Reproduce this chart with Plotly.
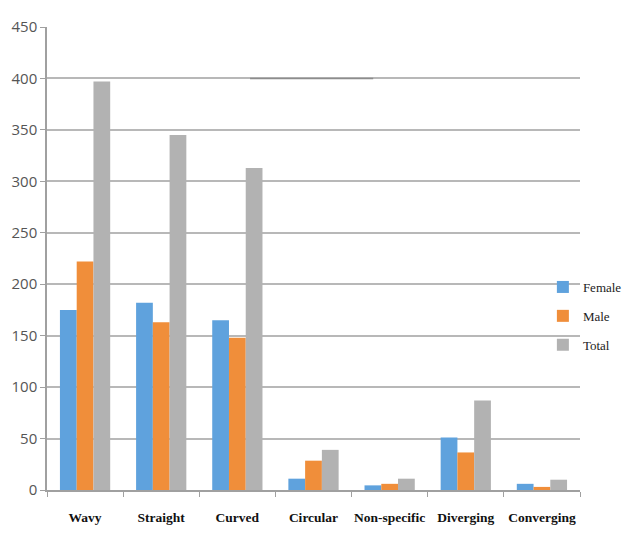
import plotly.graph_objects as go

categories = ["Wavy", "Straight", "Curved", "Circular", "Non-specific", "Diverging", "Converging"]
female = [175, 182, 165, 11, 4.5, 51, 6]
male = [222, 163, 148, 28.5, 6, 36.5, 3]
total = [397, 345, 313, 39, 11, 87, 10]
y_ticks = [0, 50, 100, 150, 200, 250, 300, 350, 400, 450]

colors = {"Female": "#5fa2dd", "Male": "#f08e3a", "Total": "#b2b2b2"}

fig = go.Figure()
for name, vals in [("Female", female), ("Male", male), ("Total", total)]:
    fig.add_trace(go.Bar(x=categories, y=vals, name=name, legendgroup=name,
                         marker=dict(color=colors[name], line=dict(width=0))))

# faint darker scan streak on the 400 gridline, as seen in the reference
fig.add_shape(type="line", xref="paper", yref="y", x0=0.381, x1=0.612, y0=400, y1=400,
              line=dict(color="#8c8c8c", width=1.5), layer="above")

fig.update_layout(
    width=624, height=540,
    margin=dict(l=47, r=44, t=27, b=50, autoexpand=False),
    paper_bgcolor="white", plot_bgcolor="white",
    barmode="group", bargap=0.34, bargroupgap=0,
    showlegend=True,
    legend=dict(xref="container", yref="container", x=0.87, xanchor="left",
                y=(540 - 316) / 540, yanchor="middle",
                font=dict(family="Liberation Serif", size=13, color="#222"),
                bgcolor="rgba(0,0,0,0)", tracegroupgap=9, itemwidth=30),
    yaxis=dict(range=[0, 450], tickvals=y_ticks, showgrid=True, gridcolor="#b8b8b8", gridwidth=1.5,
               showline=True, linecolor="#a0a0a0", linewidth=1.5, ticks="outside", ticklen=5,
               tickcolor="#a0a0a0", tickfont=dict(family="Open Sans", size=15, color="#555"),
               zeroline=False),
    xaxis=dict(showline=True, linecolor="#a0a0a0", linewidth=1.5, ticks="outside", ticklen=5,
               tickcolor="#a0a0a0", tickson="boundaries", tickangle=0, ticklabelstandoff=14,
               tickfont=dict(family="Liberation Serif", size=13.5, color="#111", weight="bold")),
)

fig.write_html("out.html")
